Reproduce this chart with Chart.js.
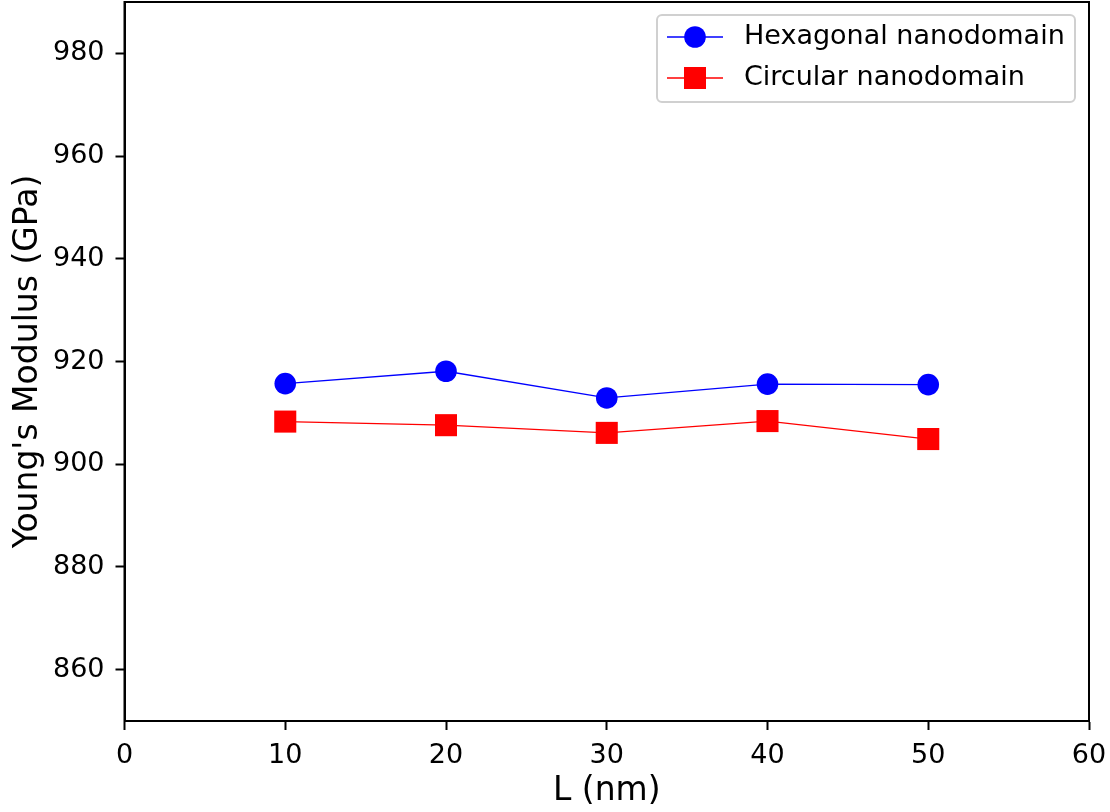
<!DOCTYPE html>
<html>
<head>
<meta charset="utf-8">
<script src="https://cdn.jsdelivr.net/npm/chart.js@4/dist/chart.umd.min.js"></script>
<style>
  html, body { margin: 0; padding: 0; background: #fff; }
  #chart { display: block; }
</style>
</head>
<body>
<canvas id="chart" width="1110" height="812"></canvas>
<script>
// data
const lengths = [10, 20, 30, 40, 50];
const hexModulus = [915.7, 918.1, 912.9, 915.6, 915.5];
const circModulus = [908.3, 907.6, 906.1, 908.4, 904.9];
const yTicks = [860, 880, 900, 920, 940, 960, 980];
const xTicks = [0, 10, 20, 30, 40, 50, 60];

const FONT = '"DejaVu Sans", "Liberation Sans", sans-serif';

const toPoints = (xs, ys) => xs.map((x, i) => ({ x: x, y: ys[i] }));

// box round the plot + matplotlib style legend
const framePlugin = {
  id: 'frame',
  afterDraw(chart) {
    const { ctx, chartArea: a } = chart;
    ctx.save();
    ctx.strokeStyle = '#000';
    ctx.lineWidth = 2;
    ctx.strokeRect(a.left, a.top, a.right - a.left, a.bottom - a.top);

    // legend box
    const bx = 657, by = 15, bw = 418, bh = 87, r = 5;
    ctx.beginPath();
    ctx.moveTo(bx + r, by);
    ctx.arcTo(bx + bw, by, bx + bw, by + bh, r);
    ctx.arcTo(bx + bw, by + bh, bx, by + bh, r);
    ctx.arcTo(bx, by + bh, bx, by, r);
    ctx.arcTo(bx, by, bx + bw, by, r);
    ctx.closePath();
    ctx.fillStyle = 'rgba(255,255,255,0.8)';
    ctx.fill();
    ctx.strokeStyle = '#d0d0d0';
    ctx.lineWidth = 2;
    ctx.stroke();

    const rows = [37, 78];
    chart.data.datasets.forEach((ds, i) => {
      const y = rows[i];
      ctx.strokeStyle = ds.borderColor;
      ctx.lineWidth = ds.borderWidth;
      ctx.beginPath();
      ctx.moveTo(667, y);
      ctx.lineTo(723, y);
      ctx.stroke();
      ctx.fillStyle = ds.backgroundColor;
      if (ds.pointStyle === 'rect') {
        ctx.fillRect(695 - 11, y - 11, 22, 22);
      } else {
        ctx.beginPath();
        ctx.arc(695, y, 10.8, 0, Math.PI * 2);
        ctx.fill();
      }
      ctx.fillStyle = '#000';
      ctx.font = '27px ' + FONT;
      ctx.textBaseline = 'middle';
      ctx.textAlign = 'left';
      ctx.fillText(ds.label, 744, y);
    });
    ctx.restore();
  }
};

new Chart(document.getElementById('chart'), {
  type: 'line',
  data: {
    datasets: [
      {
        label: 'Hexagonal nanodomain',
        data: toPoints(lengths, hexModulus),
        borderColor: '#0000ff',
        backgroundColor: '#0000ff',
        borderWidth: 1.3,
        pointStyle: 'circle',
        pointRadius: 10.8,
        pointBorderWidth: 0,
        tension: 0
      },
      {
        label: 'Circular nanodomain',
        data: toPoints(lengths, circModulus),
        borderColor: '#ff0000',
        backgroundColor: '#ff0000',
        borderWidth: 1.3,
        pointStyle: 'rect',
        pointRadius: 15.6,
        pointBorderWidth: 0,
        tension: 0
      }
    ]
  },
  options: {
    responsive: false,
    devicePixelRatio: 1,
    animation: false,
    events: [],
    clip: false,
    layout: { autoPadding: false, padding: { top: 2, right: 21, left: 0, bottom: 0 } },
    plugins: {
      legend: { display: false },
      tooltip: { enabled: false }
    },
    scales: {
      x: {
        type: 'linear',
        min: 0,
        max: 60,
        afterBuildTicks: (axis) => { axis.ticks = xTicks.map(v => ({ value: v })); },
        afterFit: (axis) => { axis.height = 91; axis.paddingLeft = 0; axis.paddingRight = 0; },
        grid: { drawOnChartArea: false, drawTicks: true, tickLength: 9, tickColor: '#000', tickWidth: 2 },
        border: { display: true, color: '#000', width: 2 },
        ticks: { color: '#000', padding: 10, font: { family: FONT, size: 27 }, maxRotation: 0 },
        title: {
          display: true,
          text: 'L (nm)',
          color: '#000',
          font: { family: FONT, size: 33 },
          padding: { top: 0, bottom: 1 }
        }
      },
      y: {
        type: 'linear',
        min: 850,
        max: 990,
        afterBuildTicks: (axis) => { axis.ticks = yTicks.map(v => ({ value: v })); },
        afterFit: (axis) => { axis.width = 124.5; axis.paddingTop = 0; axis.paddingBottom = 0; },
        grid: { drawOnChartArea: false, drawTicks: true, tickLength: 9, tickColor: '#000', tickWidth: 2 },
        border: { display: true, color: '#000', width: 2 },
        ticks: { color: '#000', padding: 11, font: { family: FONT, size: 27 } },
        title: {
          display: true,
          text: "Young's Modulus (GPa)",
          color: '#000',
          font: { family: FONT, size: 33 },
          padding: { top: 9, bottom: 0 }
        }
      }
    }
  },
  plugins: [framePlugin]
});
</script>
</body>
</html>
